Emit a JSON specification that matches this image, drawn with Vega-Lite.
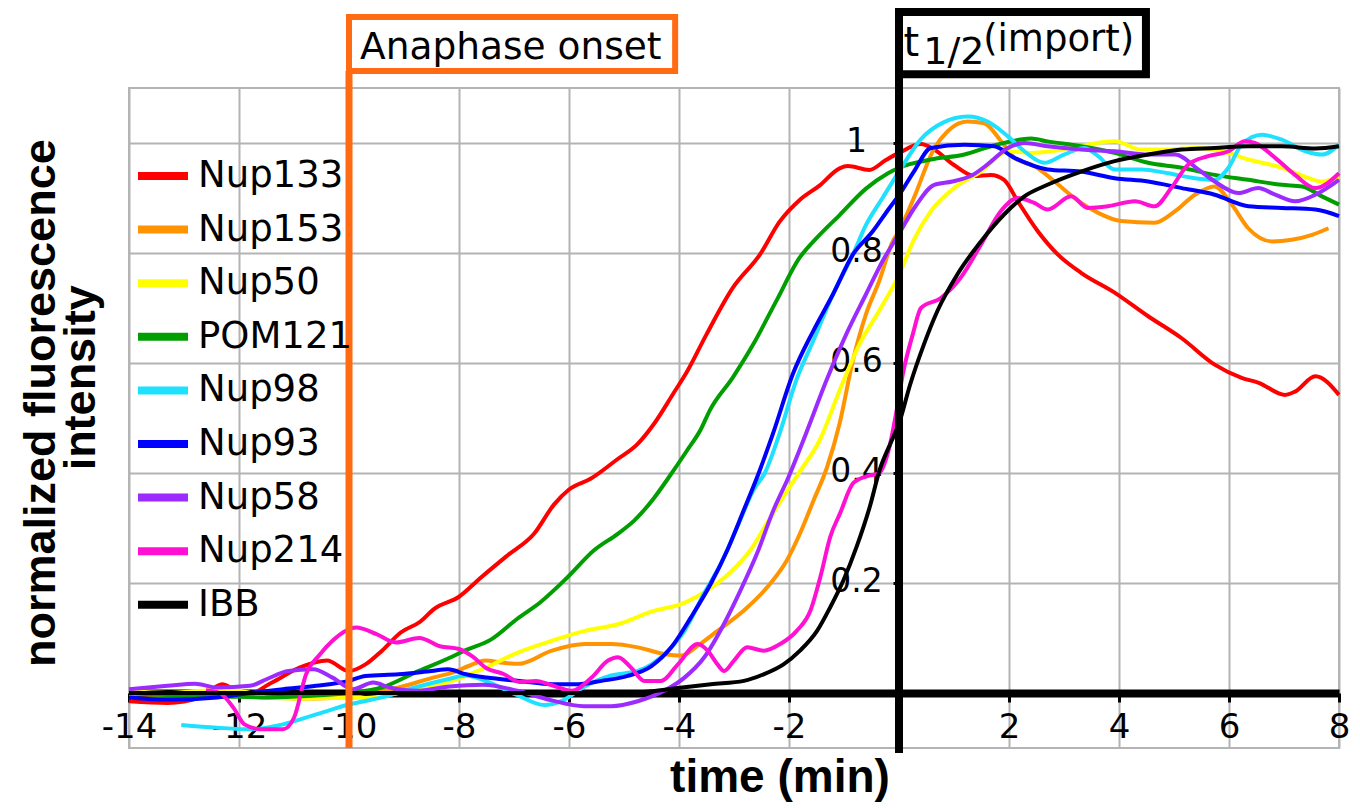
{
  "$schema": "https://vega.github.io/schema/vega-lite/v6.json",
  "width": 1210,
  "height": 660,
  "autosize": {"type": "none"},
  "padding": {"left": 129, "top": 88, "right": 21, "bottom": 60},
  "background": "white",
  "config": {"view": {"stroke": "#b4b4b4", "strokeWidth": 2}, "font": "DejaVu Sans"},
  "layer": [
    {
      "data": {"values": [
        {"s":"Nup133","t":-14,"v":-0.015},{"s":"Nup133","t":-13.3,"v":-0.018},{"s":"Nup133","t":-12.7,"v":-0.008},{"s":"Nup133","t":-12.3,"v":0.016},{"s":"Nup133","t":-11.9,"v":-0.005},{"s":"Nup133","t":-11.4,"v":0.019},{"s":"Nup133","t":-10.9,"v":0.046},{"s":"Nup133","t":-10.4,"v":0.059},{"s":"Nup133","t":-10.0,"v":0.040},{"s":"Nup133","t":-9.7,"v":0.052},{"s":"Nup133","t":-9.4,"v":0.077},{"s":"Nup133","t":-9.06,"v":0.11},{"s":"Nup133","t":-8.7,"v":0.13},{"s":"Nup133","t":-8.45,"v":0.153},{"s":"Nup133","t":-8.0,"v":0.175},{"s":"Nup133","t":-7.6,"v":0.21},{"s":"Nup133","t":-7.12,"v":0.25},{"s":"Nup133","t":-6.64,"v":0.289},{"s":"Nup133","t":-6.27,"v":0.343},{"s":"Nup133","t":-6.0,"v":0.37},{"s":"Nup133","t":-5.6,"v":0.39},{"s":"Nup133","t":-5.12,"v":0.425},{"s":"Nup133","t":-4.76,"v":0.452},{"s":"Nup133","t":-4.45,"v":0.49},{"s":"Nup133","t":-4.1,"v":0.545},{"s":"Nup133","t":-3.85,"v":0.585},{"s":"Nup133","t":-3.5,"v":0.652},{"s":"Nup133","t":-3.02,"v":0.737},{"s":"Nup133","t":-2.53,"v":0.797},{"s":"Nup133","t":-2.17,"v":0.857},{"s":"Nup133","t":-1.81,"v":0.896},{"s":"Nup133","t":-1.44,"v":0.923},{"s":"Nup133","t":-1.08,"v":0.954},{"s":"Nup133","t":-0.93,"v":0.958},{"s":"Nup133","t":-0.54,"v":0.951},{"s":"Nup133","t":-0.24,"v":0.969},{"s":"Nup133","t":0,"v":0.982},{"s":"Nup133","t":0.4,"v":0.998},{"s":"Nup133","t":0.64,"v":0.988},{"s":"Nup133","t":1.0,"v":0.96},{"s":"Nup133","t":1.37,"v":0.94},{"s":"Nup133","t":1.67,"v":0.942},{"s":"Nup133","t":1.91,"v":0.933},{"s":"Nup133","t":2.16,"v":0.894},{"s":"Nup133","t":2.52,"v":0.84},{"s":"Nup133","t":2.89,"v":0.797},{"s":"Nup133","t":3.31,"v":0.764},{"s":"Nup133","t":3.92,"v":0.728},{"s":"Nup133","t":4.53,"v":0.685},{"s":"Nup133","t":5.14,"v":0.645},{"s":"Nup133","t":5.74,"v":0.597},{"s":"Nup133","t":6.23,"v":0.573},{"s":"Nup133","t":6.54,"v":0.564},{"s":"Nup133","t":7.02,"v":0.542},{"s":"Nup133","t":7.2,"v":0.548},{"s":"Nup133","t":7.57,"v":0.576},{"s":"Nup133","t":8.0,"v":0.542},

        {"s":"Nup153","t":-14,"v":-0.002},{"s":"Nup153","t":-13,"v":-0.005},{"s":"Nup153","t":-12,"v":-0.006},{"s":"Nup153","t":-11.5,"v":-0.008},{"s":"Nup153","t":-10.9,"v":-0.01},{"s":"Nup153","t":-10.3,"v":-0.009},{"s":"Nup153","t":-9.7,"v":0.0},{"s":"Nup153","t":-9.1,"v":0.01},{"s":"Nup153","t":-8.47,"v":0.028},{"s":"Nup153","t":-8.12,"v":0.037},{"s":"Nup153","t":-7.8,"v":0.05},{"s":"Nup153","t":-7.52,"v":0.059},{"s":"Nup153","t":-7.2,"v":0.055},{"s":"Nup153","t":-6.92,"v":0.053},{"s":"Nup153","t":-6.31,"v":0.077},{"s":"Nup153","t":-5.71,"v":0.089},{"s":"Nup153","t":-5.23,"v":0.089},{"s":"Nup153","t":-4.75,"v":0.083},{"s":"Nup153","t":-4.27,"v":0.071},{"s":"Nup153","t":-3.96,"v":0.068},{"s":"Nup153","t":-3.66,"v":0.086},{"s":"Nup153","t":-3.3,"v":0.113},{"s":"Nup153","t":-2.82,"v":0.15},{"s":"Nup153","t":-2.34,"v":0.199},{"s":"Nup153","t":-2.04,"v":0.241},{"s":"Nup153","t":-1.8,"v":0.29},{"s":"Nup153","t":-1.55,"v":0.351},{"s":"Nup153","t":-1.31,"v":0.41},{"s":"Nup153","t":-1.08,"v":0.49},{"s":"Nup153","t":-0.84,"v":0.604},{"s":"Nup153","t":-0.6,"v":0.689},{"s":"Nup153","t":-0.36,"v":0.749},{"s":"Nup153","t":-0.12,"v":0.82},{"s":"Nup153","t":0.0,"v":0.84},{"s":"Nup153","t":0.27,"v":0.9},{"s":"Nup153","t":0.64,"v":0.99},{"s":"Nup153","t":0.88,"v":1.021},{"s":"Nup153","t":1.25,"v":1.039},{"s":"Nup153","t":1.55,"v":1.036},{"s":"Nup153","t":1.85,"v":1.004},{"s":"Nup153","t":2.1,"v":0.973},{"s":"Nup153","t":2.46,"v":0.958},{"s":"Nup153","t":2.83,"v":0.93},{"s":"Nup153","t":3.19,"v":0.9},{"s":"Nup153","t":3.62,"v":0.873},{"s":"Nup153","t":4.04,"v":0.858},{"s":"Nup153","t":4.65,"v":0.855},{"s":"Nup153","t":5.02,"v":0.876},{"s":"Nup153","t":5.38,"v":0.906},{"s":"Nup153","t":5.74,"v":0.921},{"s":"Nup153","t":6.05,"v":0.888},{"s":"Nup153","t":6.35,"v":0.845},{"s":"Nup153","t":6.78,"v":0.821},{"s":"Nup153","t":7.14,"v":0.824},{"s":"Nup153","t":7.51,"v":0.833},{"s":"Nup153","t":7.81,"v":0.845},

        {"s":"Nup50","t":-14,"v":0.004},{"s":"Nup50","t":-13.3,"v":0.0},{"s":"Nup50","t":-12.7,"v":0.004},{"s":"Nup50","t":-12.2,"v":0.007},{"s":"Nup50","t":-11.8,"v":0.0},{"s":"Nup50","t":-11.5,"v":-0.008},{"s":"Nup50","t":-10.9,"v":-0.01},{"s":"Nup50","t":-10.3,"v":-0.009},{"s":"Nup50","t":-9.7,"v":-0.009},{"s":"Nup50","t":-9.1,"v":0.0},{"s":"Nup50","t":-8.47,"v":0.013},{"s":"Nup50","t":-8.12,"v":0.022},{"s":"Nup50","t":-7.52,"v":0.046},{"s":"Nup50","t":-6.92,"v":0.074},{"s":"Nup50","t":-6.31,"v":0.095},{"s":"Nup50","t":-5.71,"v":0.113},{"s":"Nup50","t":-5.11,"v":0.125},{"s":"Nup50","t":-4.5,"v":0.148},{"s":"Nup50","t":-3.9,"v":0.164},{"s":"Nup50","t":-3.48,"v":0.187},{"s":"Nup50","t":-3.06,"v":0.22},{"s":"Nup50","t":-2.7,"v":0.26},{"s":"Nup50","t":-2.4,"v":0.309},{"s":"Nup50","t":-2.1,"v":0.357},{"s":"Nup50","t":-1.8,"v":0.403},{"s":"Nup50","t":-1.44,"v":0.46},{"s":"Nup50","t":-1.08,"v":0.55},{"s":"Nup50","t":-0.72,"v":0.634},{"s":"Nup50","t":-0.36,"v":0.695},{"s":"Nup50","t":0.0,"v":0.76},{"s":"Nup50","t":0.27,"v":0.824},{"s":"Nup50","t":0.58,"v":0.876},{"s":"Nup50","t":1.0,"v":0.918},{"s":"Nup50","t":1.49,"v":0.948},{"s":"Nup50","t":1.98,"v":0.985},{"s":"Nup50","t":2.4,"v":0.982},{"s":"Nup50","t":2.95,"v":0.988},{"s":"Nup50","t":3.43,"v":0.997},{"s":"Nup50","t":3.92,"v":1.003},{"s":"Nup50","t":4.41,"v":0.988},{"s":"Nup50","t":4.89,"v":0.988},{"s":"Nup50","t":5.38,"v":0.991},{"s":"Nup50","t":5.87,"v":0.985},{"s":"Nup50","t":6.35,"v":0.97},{"s":"Nup50","t":6.96,"v":0.955},{"s":"Nup50","t":7.45,"v":0.936},{"s":"Nup50","t":7.69,"v":0.93},{"s":"Nup50","t":8.0,"v":0.939},

        {"s":"POM121","t":-14,"v":0.0},{"s":"POM121","t":-13,"v":-0.005},{"s":"POM121","t":-12,"v":-0.007},{"s":"POM121","t":-11.5,"v":-0.008},{"s":"POM121","t":-10.9,"v":-0.006},{"s":"POM121","t":-10.0,"v":0.0},{"s":"POM121","t":-9.4,"v":0.01},{"s":"POM121","t":-8.8,"v":0.037},{"s":"POM121","t":-8.17,"v":0.064},{"s":"POM121","t":-7.9,"v":0.077},{"s":"POM121","t":-7.42,"v":0.097},{"s":"POM121","t":-6.94,"v":0.135},{"s":"POM121","t":-6.52,"v":0.165},{"s":"POM121","t":-6.03,"v":0.21},{"s":"POM121","t":-5.55,"v":0.259},{"s":"POM121","t":-5.12,"v":0.289},{"s":"POM121","t":-4.82,"v":0.313},{"s":"POM121","t":-4.45,"v":0.355},{"s":"POM121","t":-4.2,"v":0.39},{"s":"POM121","t":-3.86,"v":0.44},{"s":"POM121","t":-3.6,"v":0.48},{"s":"POM121","t":-3.44,"v":0.514},{"s":"POM121","t":-3.02,"v":0.574},{"s":"POM121","t":-2.65,"v":0.634},{"s":"POM121","t":-2.23,"v":0.713},{"s":"POM121","t":-1.81,"v":0.791},{"s":"POM121","t":-1.5,"v":0.827},{"s":"POM121","t":-1.08,"v":0.869},{"s":"POM121","t":-0.6,"v":0.917},{"s":"POM121","t":-0.2,"v":0.945},{"s":"POM121","t":0.0,"v":0.955},{"s":"POM121","t":0.58,"v":0.97},{"s":"POM121","t":1.19,"v":0.979},{"s":"POM121","t":1.67,"v":0.994},{"s":"POM121","t":2.4,"v":1.008},{"s":"POM121","t":2.7,"v":1.003},{"s":"POM121","t":3.31,"v":0.994},{"s":"POM121","t":3.92,"v":0.982},{"s":"POM121","t":4.53,"v":0.964},{"s":"POM121","t":5.14,"v":0.955},{"s":"POM121","t":5.74,"v":0.942},{"s":"POM121","t":6.35,"v":0.933},{"s":"POM121","t":6.96,"v":0.924},{"s":"POM121","t":7.33,"v":0.921},{"s":"POM121","t":7.69,"v":0.903},{"s":"POM121","t":8.0,"v":0.888},

        {"s":"Nup98","t":-13.05,"v":-0.058},{"s":"Nup98","t":-12.4,"v":-0.063},{"s":"Nup98","t":-11.8,"v":-0.066},{"s":"Nup98","t":-11.2,"v":-0.057},{"s":"Nup98","t":-10.6,"v":-0.039},{"s":"Nup98","t":-10.0,"v":-0.021},{"s":"Nup98","t":-9.4,"v":-0.008},{"s":"Nup98","t":-8.8,"v":0.01},{"s":"Nup98","t":-8.17,"v":0.026},{"s":"Nup98","t":-7.87,"v":0.032},{"s":"Nup98","t":-7.52,"v":0.022},{"s":"Nup98","t":-6.96,"v":-0.003},{"s":"Nup98","t":-6.45,"v":-0.022},{"s":"Nup98","t":-6.12,"v":-0.014},{"s":"Nup98","t":-5.73,"v":0.011},{"s":"Nup98","t":-5.23,"v":0.032},{"s":"Nup98","t":-4.75,"v":0.04},{"s":"Nup98","t":-4.5,"v":0.052},{"s":"Nup98","t":-4.2,"v":0.077},{"s":"Nup98","t":-3.9,"v":0.113},{"s":"Nup98","t":-3.55,"v":0.18},{"s":"Nup98","t":-3.24,"v":0.235},{"s":"Nup98","t":-2.94,"v":0.302},{"s":"Nup98","t":-2.64,"v":0.37},{"s":"Nup98","t":-2.44,"v":0.40},{"s":"Nup98","t":-2.17,"v":0.472},{"s":"Nup98","t":-1.87,"v":0.568},{"s":"Nup98","t":-1.56,"v":0.64},{"s":"Nup98","t":-1.2,"v":0.725},{"s":"Nup98","t":-0.84,"v":0.797},{"s":"Nup98","t":-0.6,"v":0.851},{"s":"Nup98","t":-0.3,"v":0.9},{"s":"Nup98","t":0.0,"v":0.948},{"s":"Nup98","t":0.4,"v":1.007},{"s":"Nup98","t":0.8,"v":1.037},{"s":"Nup98","t":1.25,"v":1.048},{"s":"Nup98","t":1.61,"v":1.039},{"s":"Nup98","t":1.98,"v":1.012},{"s":"Nup98","t":2.28,"v":0.985},{"s":"Nup98","t":2.64,"v":0.964},{"s":"Nup98","t":3.0,"v":0.979},{"s":"Nup98","t":3.37,"v":0.991},{"s":"Nup98","t":3.62,"v":0.976},{"s":"Nup98","t":3.92,"v":0.952},{"s":"Nup98","t":4.41,"v":0.952},{"s":"Nup98","t":4.89,"v":0.945},{"s":"Nup98","t":5.38,"v":0.936},{"s":"Nup98","t":5.74,"v":0.933},{"s":"Nup98","t":5.99,"v":0.955},{"s":"Nup98","t":6.23,"v":0.997},{"s":"Nup98","t":6.6,"v":1.015},{"s":"Nup98","t":6.96,"v":1.006},{"s":"Nup98","t":7.39,"v":0.985},{"s":"Nup98","t":7.69,"v":0.979},{"s":"Nup98","t":8.0,"v":0.997},

        {"s":"Nup93","t":-14,"v":-0.008},{"s":"Nup93","t":-13.3,"v":-0.012},{"s":"Nup93","t":-12.4,"v":-0.008},{"s":"Nup93","t":-11.8,"v":0.0},{"s":"Nup93","t":-11.2,"v":0.007},{"s":"Nup93","t":-10.6,"v":0.013},{"s":"Nup93","t":-10.0,"v":0.022},{"s":"Nup93","t":-9.7,"v":0.031},{"s":"Nup93","t":-9.1,"v":0.034},{"s":"Nup93","t":-8.5,"v":0.04},{"s":"Nup93","t":-8.2,"v":0.043},{"s":"Nup93","t":-7.87,"v":0.034},{"s":"Nup93","t":-7.5,"v":0.028},{"s":"Nup93","t":-6.9,"v":0.022},{"s":"Nup93","t":-6.3,"v":0.016},{"s":"Nup93","t":-5.83,"v":0.016},{"s":"Nup93","t":-5.41,"v":0.022},{"s":"Nup93","t":-4.93,"v":0.031},{"s":"Nup93","t":-4.5,"v":0.049},{"s":"Nup93","t":-4.14,"v":0.083},{"s":"Nup93","t":-3.78,"v":0.138},{"s":"Nup93","t":-3.42,"v":0.199},{"s":"Nup93","t":-3.12,"v":0.26},{"s":"Nup93","t":-2.82,"v":0.333},{"s":"Nup93","t":-2.55,"v":0.40},{"s":"Nup93","t":-2.29,"v":0.472},{"s":"Nup93","t":-1.93,"v":0.58},{"s":"Nup93","t":-1.56,"v":0.658},{"s":"Nup93","t":-1.2,"v":0.725},{"s":"Nup93","t":-0.84,"v":0.797},{"s":"Nup93","t":-0.48,"v":0.839},{"s":"Nup93","t":-0.18,"v":0.881},{"s":"Nup93","t":0.0,"v":0.905},{"s":"Nup93","t":0.27,"v":0.948},{"s":"Nup93","t":0.58,"v":0.991},{"s":"Nup93","t":1.19,"v":0.997},{"s":"Nup93","t":1.73,"v":0.994},{"s":"Nup93","t":2.1,"v":0.973},{"s":"Nup93","t":2.7,"v":0.952},{"s":"Nup93","t":3.31,"v":0.948},{"s":"Nup93","t":3.92,"v":0.936},{"s":"Nup93","t":4.53,"v":0.93},{"s":"Nup93","t":5.14,"v":0.918},{"s":"Nup93","t":5.74,"v":0.906},{"s":"Nup93","t":6.35,"v":0.885},{"s":"Nup93","t":6.96,"v":0.882},{"s":"Nup93","t":7.57,"v":0.879},{"s":"Nup93","t":8.0,"v":0.867},

        {"s":"Nup58","t":-14,"v":0.007},{"s":"Nup58","t":-13.3,"v":0.013},{"s":"Nup58","t":-12.8,"v":0.017},{"s":"Nup58","t":-12.4,"v":0.01},{"s":"Nup58","t":-11.8,"v":0.013},{"s":"Nup58","t":-11.5,"v":0.025},{"s":"Nup58","t":-11.1,"v":0.04},{"s":"Nup58","t":-10.65,"v":0.043},{"s":"Nup58","t":-10.3,"v":0.028},{"s":"Nup58","t":-9.93,"v":0.007},{"s":"Nup58","t":-9.56,"v":0.019},{"s":"Nup58","t":-9.26,"v":0.01},{"s":"Nup58","t":-8.78,"v":0.004},{"s":"Nup58","t":-8.17,"v":0.012},{"s":"Nup58","t":-7.56,"v":0.015},{"s":"Nup58","t":-6.94,"v":0.004},{"s":"Nup58","t":-6.33,"v":-0.013},{"s":"Nup58","t":-5.73,"v":-0.024},{"s":"Nup58","t":-5.23,"v":-0.024},{"s":"Nup58","t":-4.75,"v":-0.015},{"s":"Nup58","t":-4.27,"v":0.004},{"s":"Nup58","t":-3.9,"v":0.028},{"s":"Nup58","t":-3.54,"v":0.065},{"s":"Nup58","t":-3.18,"v":0.126},{"s":"Nup58","t":-2.88,"v":0.187},{"s":"Nup58","t":-2.58,"v":0.254},{"s":"Nup58","t":-2.28,"v":0.333},{"s":"Nup58","t":-2.02,"v":0.39},{"s":"Nup58","t":-1.69,"v":0.472},{"s":"Nup58","t":-1.32,"v":0.568},{"s":"Nup58","t":-0.96,"v":0.652},{"s":"Nup58","t":-0.6,"v":0.725},{"s":"Nup58","t":-0.3,"v":0.785},{"s":"Nup58","t":0.0,"v":0.835},{"s":"Nup58","t":0.3,"v":0.885},{"s":"Nup58","t":0.64,"v":0.924},{"s":"Nup58","t":0.97,"v":0.93},{"s":"Nup58","t":1.34,"v":0.942},{"s":"Nup58","t":1.61,"v":0.961},{"s":"Nup58","t":1.98,"v":0.991},{"s":"Nup58","t":2.28,"v":1.0},{"s":"Nup58","t":2.7,"v":0.994},{"s":"Nup58","t":3.31,"v":0.988},{"s":"Nup58","t":3.92,"v":0.985},{"s":"Nup58","t":4.53,"v":0.979},{"s":"Nup58","t":5.02,"v":0.979},{"s":"Nup58","t":5.44,"v":0.952},{"s":"Nup58","t":5.74,"v":0.93},{"s":"Nup58","t":6.17,"v":0.909},{"s":"Nup58","t":6.53,"v":0.918},{"s":"Nup58","t":6.84,"v":0.906},{"s":"Nup58","t":7.2,"v":0.894},{"s":"Nup58","t":7.57,"v":0.906},{"s":"Nup58","t":8.0,"v":0.933},

        {"s":"Nup214","t":-12.6,"v":0.005},{"s":"Nup214","t":-12.35,"v":0.0},{"s":"Nup214","t":-12.1,"v":-0.027},{"s":"Nup214","t":-11.9,"v":-0.057},{"s":"Nup214","t":-11.6,"v":-0.066},{"s":"Nup214","t":-11.2,"v":-0.066},{"s":"Nup214","t":-11.0,"v":-0.045},{"s":"Nup214","t":-10.78,"v":0.034},{"s":"Nup214","t":-10.53,"v":0.07},{"s":"Nup214","t":-10.3,"v":0.095},{"s":"Nup214","t":-9.87,"v":0.119},{"s":"Nup214","t":-9.5,"v":0.107},{"s":"Nup214","t":-9.15,"v":0.092},{"s":"Nup214","t":-8.72,"v":0.1},{"s":"Nup214","t":-8.35,"v":0.085},{"s":"Nup214","t":-8.0,"v":0.08},{"s":"Nup214","t":-7.75,"v":0.066},{"s":"Nup214","t":-7.5,"v":0.045},{"s":"Nup214","t":-7.2,"v":0.035},{"s":"Nup214","t":-6.9,"v":0.02},{"s":"Nup214","t":-6.6,"v":0.022},{"s":"Nup214","t":-6.37,"v":0.016},{"s":"Nup214","t":-5.95,"v":0.004},{"s":"Nup214","t":-5.59,"v":0.028},{"s":"Nup214","t":-5.29,"v":0.059},{"s":"Nup214","t":-5.11,"v":0.065},{"s":"Nup214","t":-4.87,"v":0.046},{"s":"Nup214","t":-4.63,"v":0.022},{"s":"Nup214","t":-4.33,"v":0.022},{"s":"Nup214","t":-4.02,"v":0.052},{"s":"Nup214","t":-3.66,"v":0.089},{"s":"Nup214","t":-3.48,"v":0.077},{"s":"Nup214","t":-3.3,"v":0.052},{"s":"Nup214","t":-3.18,"v":0.04},{"s":"Nup214","t":-3.0,"v":0.059},{"s":"Nup214","t":-2.76,"v":0.083},{"s":"Nup214","t":-2.46,"v":0.077},{"s":"Nup214","t":-2.16,"v":0.089},{"s":"Nup214","t":-1.86,"v":0.113},{"s":"Nup214","t":-1.61,"v":0.15},{"s":"Nup214","t":-1.43,"v":0.211},{"s":"Nup214","t":-1.25,"v":0.284},{"s":"Nup214","t":-1.07,"v":0.327},{"s":"Nup214","t":-0.83,"v":0.382},{"s":"Nup214","t":-0.59,"v":0.394},{"s":"Nup214","t":-0.36,"v":0.4},{"s":"Nup214","t":-0.18,"v":0.445},{"s":"Nup214","t":-0.05,"v":0.51},{"s":"Nup214","t":0.07,"v":0.58},{"s":"Nup214","t":0.25,"v":0.652},{"s":"Nup214","t":0.4,"v":0.7},{"s":"Nup214","t":0.76,"v":0.718},{"s":"Nup214","t":1.12,"v":0.755},{"s":"Nup214","t":1.49,"v":0.815},{"s":"Nup214","t":1.85,"v":0.876},{"s":"Nup214","t":2.16,"v":0.9},{"s":"Nup214","t":2.46,"v":0.891},{"s":"Nup214","t":2.7,"v":0.879},{"s":"Nup214","t":3.13,"v":0.903},{"s":"Nup214","t":3.43,"v":0.882},{"s":"Nup214","t":3.8,"v":0.885},{"s":"Nup214","t":4.29,"v":0.894},{"s":"Nup214","t":4.65,"v":0.885},{"s":"Nup214","t":4.95,"v":0.918},{"s":"Nup214","t":5.26,"v":0.961},{"s":"Nup214","t":5.62,"v":0.976},{"s":"Nup214","t":5.99,"v":0.985},{"s":"Nup214","t":6.29,"v":1.003},{"s":"Nup214","t":6.47,"v":1.0},{"s":"Nup214","t":6.84,"v":0.973},{"s":"Nup214","t":7.2,"v":0.942},{"s":"Nup214","t":7.57,"v":0.918},{"s":"Nup214","t":8.0,"v":0.945},

        {"s":"IBB","t":-14,"v":0.0},{"s":"IBB","t":-12,"v":0.0},{"s":"IBB","t":-10,"v":0.0},{"s":"IBB","t":-8,"v":0.0},{"s":"IBB","t":-6,"v":0.0},{"s":"IBB","t":-5,"v":0.0},{"s":"IBB","t":-4.5,"v":0.003},{"s":"IBB","t":-4.02,"v":0.009},{"s":"IBB","t":-3.42,"v":0.016},{"s":"IBB","t":-2.82,"v":0.022},{"s":"IBB","t":-2.46,"v":0.034},{"s":"IBB","t":-2.1,"v":0.052},{"s":"IBB","t":-1.8,"v":0.077},{"s":"IBB","t":-1.49,"v":0.113},{"s":"IBB","t":-1.25,"v":0.156},{"s":"IBB","t":-1.01,"v":0.205},{"s":"IBB","t":-0.77,"v":0.266},{"s":"IBB","t":-0.53,"v":0.339},{"s":"IBB","t":-0.35,"v":0.406},{"s":"IBB","t":-0.15,"v":0.455},{"s":"IBB","t":0.0,"v":0.49},{"s":"IBB","t":0.2,"v":0.56},{"s":"IBB","t":0.45,"v":0.633},{"s":"IBB","t":0.7,"v":0.695},{"s":"IBB","t":1.06,"v":0.761},{"s":"IBB","t":1.49,"v":0.821},{"s":"IBB","t":1.91,"v":0.87},{"s":"IBB","t":2.28,"v":0.903},{"s":"IBB","t":2.7,"v":0.924},{"s":"IBB","t":3.31,"v":0.948},{"s":"IBB","t":3.92,"v":0.967},{"s":"IBB","t":4.53,"v":0.979},{"s":"IBB","t":5.14,"v":0.988},{"s":"IBB","t":5.74,"v":0.991},{"s":"IBB","t":6.35,"v":0.994},{"s":"IBB","t":6.96,"v":0.994},{"s":"IBB","t":7.57,"v":0.99},{"s":"IBB","t":8.0,"v":0.994}
      ]},
      "mark": {"type": "line", "strokeWidth": 4, "interpolate": "monotone"},
      "encoding": {
        "x": {"field": "t", "type": "quantitative",
          "scale": {"domain": [-14, 8], "nice": false, "zero": false},
          "axis": {"values": [-14,-12,-10,-8,-6,-4,-2,0,2,4,6,8], "offset": -55, "title": null,
            "domainColor": "black", "domainWidth": 8, "tickColor": "black", "tickSize": 9, "tickWidth": 3,
            "labelFont": "DejaVu Sans", "labelFontSize": 34, "labelColor": "black", "labelPadding": 8,
            "labelExpr": "datum.value == 0 ? '' : '' + datum.value", "labelFlush": false, "labelOverlap": false,
            "grid": true, "gridColor": "#b4b4b4", "gridWidth": 2}},
        "y": {"field": "v", "type": "quantitative",
          "scale": {"domain": [-0.1, 1.1], "nice": false, "zero": false},
          "axis": {"values": [0.2,0.4,0.6,0.8,1], "offset": -770, "title": null, "domain": false,
            "tickColor": "black", "tickSize": 6, "tickWidth": 3,
            "labelFont": "DejaVu Sans", "labelFontSize": 33, "labelColor": "black", "labelAlign": "center",
            "labelPadding": 37, "labelOffset": -2, "labelExpr": "'' + datum.value",
            "grid": true, "gridColor": "#b4b4b4", "gridWidth": 2}},
        "color": {"field": "s", "type": "nominal",
          "scale": {"domain": ["Nup133","Nup153","Nup50","POM121","Nup98","Nup93","Nup58","Nup214","IBB"],
                    "range": ["#ff0000","#ff9400","#ffff00","#009e00","#1ee0ff","#0000ff","#9b2bff","#ff10d2","#000000"]},
          "legend": {"orient": "none", "legendX": 5, "legendY": 59, "title": null, "padding": 0,
            "symbolType": "stroke", "symbolSize": 2500, "symbolStrokeWidth": 8, "rowPadding": 6.6,
            "labelOffset": 6, "labelFont": "DejaVu Sans", "labelFontSize": 37, "labelColor": "black", "labelLimit": 0}}
      }
    },
    {
      "data": {"values": [{}]},
      "mark": {"type": "rule", "color": "#ff6a13", "strokeWidth": 7},
      "encoding": {"x": {"datum": -10}, "y": {"datum": -0.1}, "y2": {"datum": 1.131}}
    },
    {
      "data": {"values": [{}]},
      "mark": {"type": "rule", "color": "black", "strokeWidth": 8},
      "encoding": {"x": {"datum": 0}, "y": {"datum": -0.109}, "y2": {"datum": 1.238}}
    },
    {
      "data": {"values": [{}]},
      "mark": {"type": "rect", "fill": "white", "stroke": "#ff6a13", "strokeWidth": 6},
      "encoding": {"x": {"datum": -10}, "x2": {"datum": -4.07}, "y": {"datum": 1.131}, "y2": {"datum": 1.229}}
    },
    {
      "data": {"values": [{}]},
      "mark": {"type": "rect", "fill": "white", "stroke": "black", "strokeWidth": 8},
      "encoding": {"x": {"datum": 0}, "x2": {"datum": 4.49}, "y": {"datum": 1.125}, "y2": {"datum": 1.238}}
    },
    {
      "data": {"values": [{"label": "Anaphase onset"}]},
      "mark": {"type": "text", "font": "DejaVu Sans", "fontSize": 37.5, "align": "left", "baseline": "alphabetic", "color": "black"},
      "encoding": {"x": {"datum": -9.8}, "y": {"datum": 1.1527}, "text": {"field": "label"}}
    },
    {
      "data": {"values": [{"label": "t"}]},
      "mark": {"type": "text", "font": "DejaVu Sans", "fontSize": 40, "align": "left", "baseline": "alphabetic", "color": "black"},
      "encoding": {"x": {"datum": 0.08}, "y": {"datum": 1.158}, "text": {"field": "label"}}
    },
    {
      "data": {"values": [{"label": "1/2"}]},
      "mark": {"type": "text", "font": "DejaVu Sans", "fontSize": 38, "align": "left", "baseline": "alphabetic", "color": "black"},
      "encoding": {"x": {"datum": 0.44}, "y": {"datum": 1.1436}, "text": {"field": "label"}}
    },
    {
      "data": {"values": [{"label": "(import)"}]},
      "mark": {"type": "text", "font": "DejaVu Sans", "fontSize": 37, "align": "left", "baseline": "alphabetic", "color": "black"},
      "encoding": {"x": {"datum": 1.53}, "y": {"datum": 1.167}, "text": {"field": "label"}}
    },
    {
      "data": {"values": [{"label": "time (min)"}]},
      "mark": {"type": "text", "font": "Liberation Sans", "fontWeight": "bold", "fontSize": 46, "align": "center", "baseline": "alphabetic", "color": "black"},
      "encoding": {"x": {"datum": -2.164}, "y": {"datum": -0.18}, "text": {"field": "label"}}
    },
    {
      "data": {"values": [{"label": "normalized fluorescence"}]},
      "mark": {"type": "text", "font": "Liberation Sans", "fontWeight": "bold", "fontSize": 45, "align": "center", "baseline": "alphabetic", "angle": 270, "color": "black"},
      "encoding": {"x": {"datum": -15.345}, "y": {"datum": 0.527}, "text": {"field": "label"}}
    },
    {
      "data": {"values": [{"label": "intensity"}]},
      "mark": {"type": "text", "font": "Liberation Sans", "fontWeight": "bold", "fontSize": 45, "align": "center", "baseline": "alphabetic", "angle": 270, "color": "black"},
      "encoding": {"x": {"datum": -14.618}, "y": {"datum": 0.573}, "text": {"field": "label"}}
    }
  ]
}
